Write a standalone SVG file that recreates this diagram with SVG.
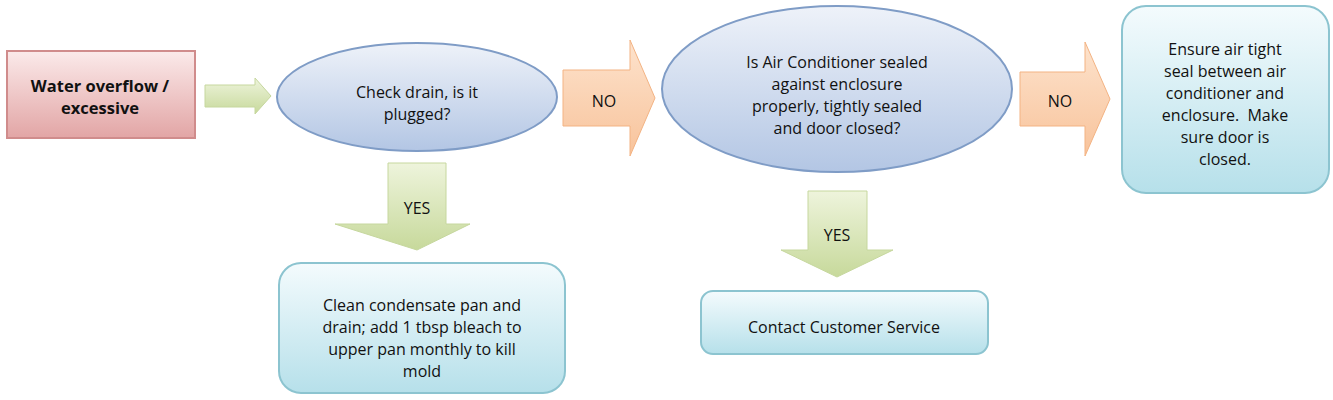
<svg xmlns="http://www.w3.org/2000/svg" width="1333" height="400" viewBox="0 0 1333 400">
<style>
text{font-family:"Open Sans","Liberation Sans",sans-serif;font-size:16px;fill:#111;text-anchor:middle}
.b{font-weight:bold;font-size:16.5px}
.ell{fill:url(#gEll);stroke:#7f9cc6;stroke-width:2}
.box{fill:url(#gBox);stroke:#8cc4d0;stroke-width:2}
.grn{fill:url(#gGrn);stroke:#c6d79e;stroke-width:1}
.org{fill:url(#gOrg);stroke:#f3b383;stroke-width:1}
</style>
<defs>
<linearGradient id="gEll" x1="0" y1="0" x2="0" y2="1"><stop offset="0" stop-color="#eef2f9"/><stop offset="1" stop-color="#b3c6e4"/></linearGradient>
<linearGradient id="gBox" x1="0" y1="0" x2="0" y2="1"><stop offset="0" stop-color="#f4fbfd"/><stop offset="1" stop-color="#b6e0ea"/></linearGradient>
<linearGradient id="gRed" x1="0" y1="0" x2="0" y2="1"><stop offset="0" stop-color="#fbeaea"/><stop offset="1" stop-color="#e2a5a5"/></linearGradient>
<linearGradient id="gGrn" x1="0" y1="0" x2="0" y2="1"><stop offset="0" stop-color="#eef4dc"/><stop offset="1" stop-color="#c7d99b"/></linearGradient>
<linearGradient id="gOrg" x1="0" y1="0" x2="0" y2="1"><stop offset="0" stop-color="#fde3cd"/><stop offset="1" stop-color="#f8c39b"/></linearGradient>
</defs>
<g id="connectors">
<polygon class="grn" points="205,85 255,85 255,78 271,96 255,114 255,107 205,107"/>
<polygon class="org" points="563,70 630,70 630,40 655,98 630,156 630,126 563,126"/>
<text x="604" y="107">NO</text>
<polygon class="org" points="1020,72 1085,72 1085,42 1110,99 1085,156 1085,126 1020,126"/>
<text x="1060" y="107">NO</text>
<polygon class="grn" points="388,163 446,163 446,224 470,224 417,250 335,224 388,224"/>
<text x="417" y="214">YES</text>
<polygon class="grn" points="808,191 867,191 867,250 893,250 837,277 781,250 808,250"/>
<text x="837" y="241">YES</text>
</g>
<g id="start"><rect x="7" y="51" width="188" height="87" fill="url(#gRed)" stroke="#d08c8c" stroke-width="2"/>
<text class="b" x="100" y="92">Water overflow /</text><text class="b" x="100" y="114">excessive</text></g>
<g id="check-drain"><ellipse class="ell" cx="417" cy="97" rx="140" ry="54"/>
<text x="417" y="98">Check drain, is it</text><text x="417" y="120">plugged?</text></g>
<g id="check-seal"><ellipse class="ell" cx="837" cy="89" rx="175" ry="83"/>
<text x="837" y="68">Is Air Conditioner sealed</text><text x="837" y="90">against enclosure</text><text x="837" y="112">properly, tightly sealed</text><text x="837" y="134">and door closed?</text></g>
<g id="ensure-seal"><rect class="box" x="1122" y="6" width="207" height="187" rx="24"/>
<text x="1225" y="55">Ensure air tight</text><text x="1225" y="77">seal between air</text><text x="1225" y="99">conditioner and</text><text x="1225" y="121">enclosure.&#160; Make</text><text x="1225" y="143">sure door is</text><text x="1225" y="165">closed.</text></g>
<g id="clean-pan"><rect class="box" x="279" y="263" width="286" height="130" rx="22"/>
<text x="422" y="311">Clean condensate pan and</text><text x="422" y="333">drain; add 1 tbsp bleach to</text><text x="422" y="355">upper pan monthly to kill</text><text x="422" y="377">mold</text></g>
<g id="contact"><rect class="box" x="701" y="291" width="287" height="63" rx="12"/>
<text x="844" y="333">Contact Customer Service</text></g>
</svg>
